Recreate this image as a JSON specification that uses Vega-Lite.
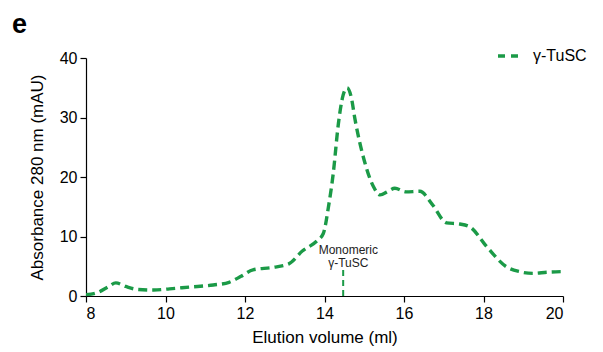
{
  "$schema": "https://vega.github.io/schema/vega-lite/v6.json",
  "autosize": "none",
  "width": 477,
  "height": 238,
  "padding": {"left": 86, "top": 58, "right": 40, "bottom": 56},
  "background": "white",
  "config": {
    "view": {"stroke": null},
    "font": "Liberation Sans",
    "axis": {"grid": false, "domainColor": "black", "tickColor": "black", "labelColor": "black", "titleColor": "black", "labelFont": "Liberation Sans", "titleFont": "Liberation Sans", "labelFontSize": 16, "titleFontSize": 17, "titleFontWeight": "normal", "tickSize": 6, "domainWidth": 1.2, "tickWidth": 1.2}
  },
  "title": {"text": "e", "anchor": "start", "frame": "group", "dx": -74, "offset": 5, "fontSize": 27, "fontWeight": "bold", "font": "Liberation Sans", "color": "black"},
  "datasets": {
    "curve": [
      {"v": 8.0, "a": 0.2, "s": "γ-TuSC"},
      {"v": 8.3, "a": 0.6, "s": "γ-TuSC"},
      {"v": 8.55, "a": 1.5, "s": "γ-TuSC"},
      {"v": 8.75, "a": 2.2, "s": "γ-TuSC"},
      {"v": 9.0, "a": 1.6, "s": "γ-TuSC"},
      {"v": 9.3, "a": 1.1, "s": "γ-TuSC"},
      {"v": 9.7, "a": 1.0, "s": "γ-TuSC"},
      {"v": 10.1, "a": 1.2, "s": "γ-TuSC"},
      {"v": 10.6, "a": 1.5, "s": "γ-TuSC"},
      {"v": 11.2, "a": 1.85, "s": "γ-TuSC"},
      {"v": 11.6, "a": 2.3, "s": "γ-TuSC"},
      {"v": 11.9, "a": 3.3, "s": "γ-TuSC"},
      {"v": 12.2, "a": 4.4, "s": "γ-TuSC"},
      {"v": 12.7, "a": 4.8, "s": "γ-TuSC"},
      {"v": 13.1, "a": 5.4, "s": "γ-TuSC"},
      {"v": 13.45, "a": 7.6, "s": "γ-TuSC"},
      {"v": 13.8, "a": 9.2, "s": "γ-TuSC"},
      {"v": 13.97, "a": 10.5, "s": "γ-TuSC"},
      {"v": 14.1, "a": 15.0, "s": "γ-TuSC"},
      {"v": 14.22, "a": 20.6, "s": "γ-TuSC"},
      {"v": 14.35, "a": 29.0, "s": "γ-TuSC"},
      {"v": 14.47, "a": 33.8, "s": "γ-TuSC"},
      {"v": 14.57, "a": 35.0, "s": "γ-TuSC"},
      {"v": 14.67, "a": 33.5, "s": "γ-TuSC"},
      {"v": 14.77, "a": 29.6, "s": "γ-TuSC"},
      {"v": 15.02, "a": 22.3, "s": "γ-TuSC"},
      {"v": 15.23, "a": 18.4, "s": "γ-TuSC"},
      {"v": 15.4, "a": 17.0, "s": "γ-TuSC"},
      {"v": 15.6, "a": 17.6, "s": "γ-TuSC"},
      {"v": 15.77, "a": 18.1, "s": "γ-TuSC"},
      {"v": 16.05, "a": 17.5, "s": "γ-TuSC"},
      {"v": 16.4, "a": 17.6, "s": "γ-TuSC"},
      {"v": 16.7, "a": 15.5, "s": "γ-TuSC"},
      {"v": 17.07, "a": 12.3, "s": "γ-TuSC"},
      {"v": 17.4, "a": 12.1, "s": "γ-TuSC"},
      {"v": 17.66, "a": 11.6, "s": "γ-TuSC"},
      {"v": 18.08, "a": 8.3, "s": "γ-TuSC"},
      {"v": 18.58, "a": 4.9, "s": "γ-TuSC"},
      {"v": 18.9, "a": 4.1, "s": "γ-TuSC"},
      {"v": 19.25, "a": 3.8, "s": "γ-TuSC"},
      {"v": 19.6, "a": 4.0, "s": "γ-TuSC"},
      {"v": 20.0, "a": 4.1, "s": "γ-TuSC"}
    ],
    "marker": [
      {"v": 14.47, "y0": 0, "y1": 5.0}
    ],
    "labels": [
      {"v": 14.6, "a": 7.7, "t": "Monomeric"},
      {"v": 14.6, "a": 5.5, "t": "γ-TuSC"}
    ]
  },
  "layer": [
    {
      "data": {"name": "curve"},
      "mark": {"type": "line", "interpolate": "monotone", "strokeWidth": 3.4, "strokeDash": [9, 5], "clip": true},
      "encoding": {
        "x": {"field": "v", "type": "quantitative", "scale": {"domain": [8, 20], "nice": false, "zero": false}, "axis": {"values": [8, 10, 12, 14, 16, 18, 20], "title": "Elution volume (ml)", "labelPadding": 3, "titlePadding": 8}},
        "y": {"field": "a", "type": "quantitative", "scale": {"domain": [0, 40], "nice": false}, "axis": {"values": [0, 10, 20, 30, 40], "title": "Absorbance 280 nm (mAU)", "labelPadding": 3, "titlePadding": 13}},
        "color": {"field": "s", "type": "nominal", "scale": {"range": ["#1b9a47"]}, "legend": {"title": null, "orient": "none", "legendX": 410, "legendY": -14, "symbolType": "stroke", "symbolStrokeWidth": 3.4, "symbolDash": [7, 6], "symbolSize": 400, "labelFontSize": 16, "labelFont": "Liberation Sans", "labelColor": "black", "labelOffset": 13}}
      }
    },
    {
      "data": {"name": "marker"},
      "mark": {"type": "rule", "color": "#1b9a47", "strokeWidth": 2, "strokeDash": [6, 4]},
      "encoding": {
        "x": {"field": "v", "type": "quantitative"},
        "y": {"field": "y0", "type": "quantitative"},
        "y2": {"field": "y1"}
      }
    },
    {
      "data": {"name": "labels"},
      "mark": {"type": "text", "fontSize": 12, "font": "Liberation Sans", "color": "#222", "baseline": "middle", "align": "center"},
      "encoding": {
        "x": {"field": "v", "type": "quantitative"},
        "y": {"field": "a", "type": "quantitative"},
        "text": {"field": "t"}
      }
    }
  ]
}
